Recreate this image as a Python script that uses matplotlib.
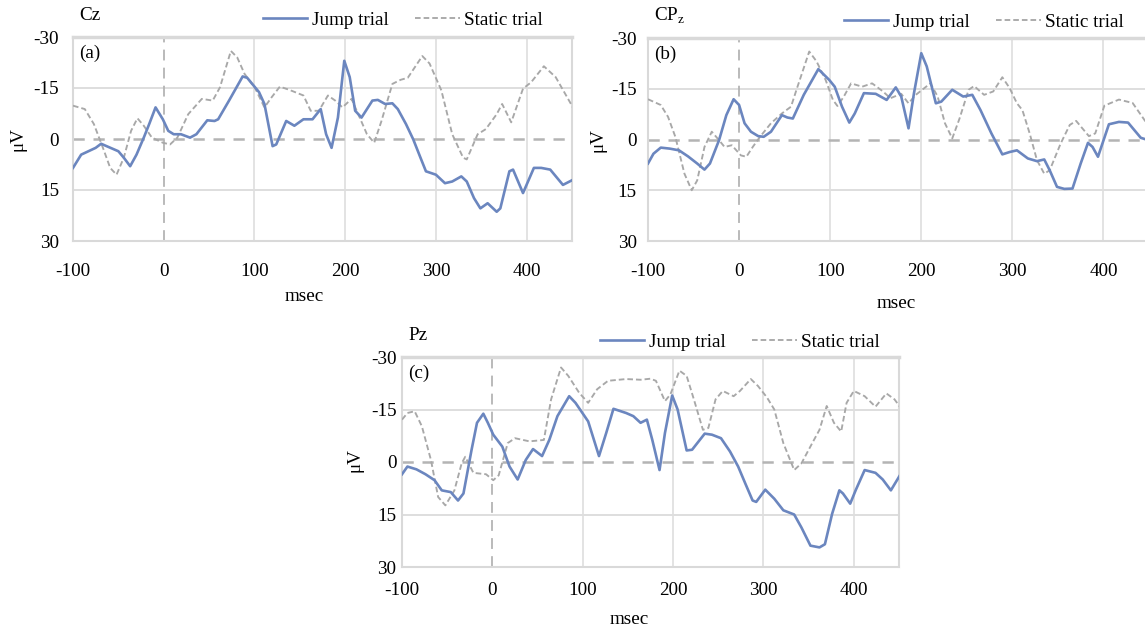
import matplotlib
matplotlib.use("Agg")
import matplotlib.pyplot as plt
import numpy as np

# ---------------- data ----------------
xticks = [-100, 0, 100, 200, 300, 400]
yticks = [-30, -15, 0, 15, 30]

# Panel (a) Cz
a_jump_t = [-100, -91, -83, -75, -69, -63, -50, -44, -37, -30, -22, -16, -9, -1, 5, 11, 19, 29, 36, 48, 56, 60,
            72, 87, 92, 105, 111, 120, 124, 135, 144, 154, 164, 173, 179, 185, 192, 199, 205, 211, 218, 230, 236,
            244, 252, 258, 267, 275, 283, 289, 300, 310, 318, 328, 334, 342, 349, 357, 367, 371, 381, 385, 396,
            408, 416, 426, 440, 451]
a_jump_v = [8.5, 4.6, 3.6, 2.6, 1.4, 2.1, 3.6, 5.5, 8.0, 4.6, -0.4, -4.4, -9.3, -5.8, -2.4, -1.4, -1.4, -0.4, -1.4,
            -5.5, -5.3, -5.8, -11.3, -18.4, -18.0, -13.8, -10.3, 2.1, 1.6, -5.3, -3.9, -5.8, -5.8, -8.8, -1.4, 2.6,
            -6.3, -23.0, -18.2, -8.3, -6.3, -11.3, -11.5, -10.3, -10.5, -8.8, -4.4, 0.1, 5.5, 9.5, 10.5, 13.0, 12.5,
            11.0, 12.5, 17.4, 20.4, 18.9, 21.4, 20.4, 9.5, 9.0, 15.9, 8.5, 8.5, 9.0, 13.5, 12.0]
a_static_t = [-100, -87, -77, -67, -59, -52, -44, -36, -29, -22, -13, -1, 7, 15, 27, 42, 54, 62, 74, 81, 89, 101,
              111, 119, 128, 138, 154, 162, 171, 181, 189, 197, 207, 216, 224, 232, 240, 252, 261, 269, 277, 285,
              293, 306, 318, 330, 334, 346, 355, 367, 373, 383, 396, 405, 419, 432, 451]
a_static_v = [-9.8, -8.8, -4.4, 2.6, 8.5, 10.5, 5.5, -2.4, -6.1, -3.9, -0.4, 1.1, 1.6, -0.4, -7.3, -11.8, -11.3,
              -15.2, -25.9, -24.0, -19.2, -14.8, -9.3, -12.3, -15.4, -14.5, -12.8, -8.3, -8.3, -12.8, -11.3, -9.3,
              -11.8, -6.3, -1.4, 1.1, -5.3, -16.2, -17.4, -18.0, -21.2, -24.4, -22.2, -14.3, -1.4, 5.5, 6.0, -1.4,
              -2.9, -7.3, -10.3, -4.9, -14.8, -16.7, -21.4, -18.2, -9.3]

# Panel (b) CPz
b_jump_t = [-100, -94, -86, -76, -66, -56, -46, -38, -32, -22, -14, -6, 0, 6, 13, 21, 27, 35, 47, 53, 59, 71, 87,
            99, 105, 113, 121, 127, 137, 150, 162, 172, 178, 186, 192, 200, 206, 216, 222, 234, 246, 256, 265,
            277, 289, 297, 305, 317, 327, 335, 341, 349, 357, 366, 375, 383, 388, 394, 406, 417, 427, 441, 447]
b_jump_v = [7.1, 4.2, 2.4, 2.7, 3.2, 5.0, 7.1, 8.9, 7.1, 0.2, -7.2, -11.9, -10.2, -4.8, -2.3, -1.0, -0.8, -2.3,
            -7.2, -6.5, -6.2, -13.2, -20.8, -17.6, -15.6, -9.7, -5.0, -7.7, -13.7, -13.5, -11.7, -15.4, -12.7,
            -3.3, -13.7, -25.5, -21.6, -10.7, -11.2, -14.7, -12.7, -13.2, -8.7, -1.8, 4.4, 3.7, 3.2, 5.6, 6.4,
            5.9, 9.1, 14.0, 14.6, 14.5, 7.1, 1.0, 2.2, 5.1, -4.5, -5.2, -5.0, -0.5, 0.0]
b_static_t = [-100, -86, -78, -70, -60, -52, -46, -38, -30, -22, -16, -8, 2, 8, 15, 23, 35, 47, 57, 63, 77, 85,
              95, 103, 108, 115, 123, 135, 146, 158, 166, 178, 186, 194, 210, 218, 226, 234, 242, 252, 258, 269,
              279, 289, 297, 305, 311, 319, 327, 335, 341, 353, 363, 370, 384, 391, 401, 417, 432, 447]
b_static_v = [-11.9, -10.2, -6.7, -0.8, 10.1, 15.0, 12.1, 2.2, -2.3, 0.2, 2.2, 1.7, 4.7, 5.1, 2.2, -0.8, -4.8,
              -7.7, -9.7, -14.7, -26.0, -23.1, -17.6, -11.7, -9.9, -12.7, -16.6, -15.6, -16.6, -14.2, -12.2,
              -13.5, -10.7, -13.2, -16.6, -12.7, -4.8, -0.3, -6.2, -14.7, -15.8, -13.2, -14.2, -18.4, -15.2,
              -10.7, -8.7, -1.8, 6.1, 10.1, 9.1, 1.2, -4.3, -5.5, -1.0, -1.8, -10.0, -11.8, -10.8, -5.0]

# Panel (c) Pz
c_jump_t = [-100, -94, -84, -74, -64, -56, -46, -38, -32, -23, -17, -10, -5, 1, 11, 19, 28, 37, 45, 55, 63, 72,
            85, 92, 106, 118, 126, 134, 148, 156, 164, 171, 177, 185, 191, 199, 205, 215, 221, 235, 243, 253, 263,
            272, 280, 288, 292, 302, 312, 322, 334, 342, 352, 362, 368, 376, 384, 388, 396, 402, 412, 424, 432,
            441, 451]
c_jump_v = [3.5, 1.3, 2.1, 3.5, 5.2, 8.1, 8.6, 11.0, 9.0, -3.5, -11.2, -13.8, -11.2, -7.8, -4.4, 1.3, 5.0, -0.6,
            -3.7, -1.7, -6.3, -13.1, -18.8, -16.9, -11.6, -1.7, -8.3, -15.2, -14.0, -13.1, -11.2, -12.1, -6.3,
            2.3, -8.3, -19.0, -15.0, -3.3, -3.5, -8.1, -7.8, -6.8, -3.0, 1.3, 6.2, 11.0, 11.4, 7.9, 10.5, 13.8,
            15.0, 18.7, 23.9, 24.4, 23.5, 14.8, 8.1, 9.0, 11.9, 8.1, 2.3, 3.1, 5.0, 8.1, 3.8]
c_static_t = [-100, -94, -86, -78, -68, -60, -52, -42, -34, -30, -21, -7, 1, 7, 17, 25, 41, 57, 65, 76, 84, 96,
              106, 116, 128, 148, 164, 175, 181, 191, 197, 207, 215, 223, 233, 239, 247, 255, 267, 274, 286, 294,
              304, 312, 322, 334, 342, 354, 362, 370, 378, 386, 392, 400, 412, 424, 436, 445, 451]
c_static_v = [-12.1, -14.0, -14.5, -10.2, -0.6, 10.0, 12.4, 8.1, 0.4, -1.5, 3.1, 3.5, 5.2, 3.8, -5.4, -6.8, -5.9,
              -6.3, -17.9, -27.0, -24.6, -19.8, -16.9, -20.8, -23.2, -23.7, -23.5, -23.8, -23.2, -17.4, -19.3,
              -26.1, -24.6, -17.9, -9.2, -9.7, -17.9, -20.3, -18.8, -20.3, -23.7, -21.7, -18.4, -15.0, -5.4, 2.3,
              0.4, -5.4, -9.2, -16.0, -11.2, -8.7, -16.9, -20.3, -18.8, -15.8, -19.6, -17.9, -15.8]

# ---------------- styling ----------------
W, H = 1145, 632
BLUE = '#6b86bf'
GRAY = '#a8a8a8'
ZERO = '#b4b4b4'
GRID = '#dedede'
FONT = 'Liberation Serif'
FS = 13.8

plt.rcParams['font.family'] = [FONT, 'DejaVu Serif']

fig = plt.figure(figsize=(W / 100, H / 100), dpi=100)


def fx(px):
    return px / W


def fy(py):
    return 1 - py / H


def panel(rect_px, jt, jv, st, sv, title, letter, legend_c, ylab_xy, xlab_xy, ypad, xpad):
    l, t, r, b = rect_px
    ax = fig.add_axes([fx(l), fy(b), (r - l) / W, (b - t) / H])
    ax.set_xlim(-100, 450)
    ax.set_ylim(30, -30)
    for x in xticks[2:]:
        ax.axvline(x, color=GRID, lw=1.2, zorder=1)
    for y in [-15, 15]:
        ax.axhline(y, color=GRID, lw=1.4, zorder=1)
    ax.axhline(0, color=ZERO, lw=1.8, dashes=(4.5, 3.5), zorder=2)
    ax.axvline(0, color=ZERO, lw=1.3, dashes=(6, 4), zorder=2)
    lj, = ax.plot(jt, jv, color=BLUE, lw=1.9, zorder=4, solid_joinstyle='round', label='Jump trial')
    ls, = ax.plot(st, sv, color=GRAY, lw=1.35, dashes=(3, 1.6), zorder=3, label='Static trial')
    ax.set_xticks(xticks)
    ax.set_yticks(yticks)
    ax.set_xticklabels([str(v) for v in xticks])
    ax.set_yticklabels([str(v) for v in yticks])
    ax.tick_params(length=0, labelsize=FS, colors='black')
    ax.tick_params(axis='y', pad=ypad)
    ax.tick_params(axis='x', pad=xpad)
    for s in ax.spines.values():
        s.set_color('#d9d9d9')
        s.set_linewidth(1.5)
    ax.spines['top'].set_linewidth(2.5)
    ax.text(6 / (r - l), 1 - 16 / (b - t), letter, transform=ax.transAxes,
            fontsize=FS, ha='left', va='center')
    fig.text(fx(l + 6), fy(t - 22), title, fontsize=FS, ha='left', va='center')
    fig.text(fx(ylab_xy[0]), fy(ylab_xy[1]), 'μV', fontsize=FS, rotation=90,
             ha='center', va='center')
    fig.text(fx(xlab_xy[0]), fy(xlab_xy[1]), 'msec', fontsize=FS, ha='center', va='center')
    ax.legend(handles=[lj, ls], loc='center', ncol=2, frameon=False,
              bbox_to_anchor=(fx(legend_c[0]), fy(legend_c[1])),
              bbox_transform=fig.transFigure, fontsize=FS,
              handlelength=2.3, handletextpad=0.25, columnspacing=1.4,
              borderpad=0, borderaxespad=0)
    return ax


panel((73, 37, 572, 241), a_jump_t, a_jump_v, a_static_t, a_static_v, 'Cz', '(a)',
      (403, 20), (18, 139), (304, 296), 10, 16)
panel((648, 38, 1149, 241), b_jump_t, b_jump_v, b_static_t, b_static_v, 'CP$_\\mathregular{z}$', '(b)',
      (984, 22), (598, 140), (896, 304), 8, 16)
panel((402, 357, 899, 567), c_jump_t, c_jump_v, c_static_t, c_static_v, 'Pz', '(c)',
      (740, 342), (355, 460), (629, 620), 4, 11)

fig.savefig('out.png', dpi=100)
